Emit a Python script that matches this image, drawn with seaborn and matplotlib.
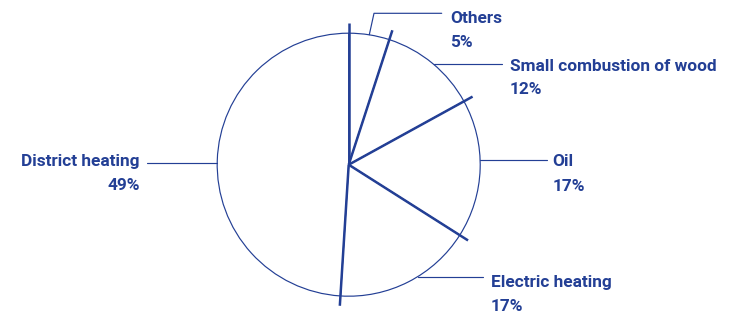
import numpy as np
import matplotlib
matplotlib.use("Agg")
import matplotlib.pyplot as plt
import seaborn as sns

# ---- data ----
categories = ["Others", "Small combustion of wood", "Oil", "Electric heating", "District heating"]
shares = [5, 12, 17, 17, 49]
pct_labels = ["5%", "12%", "17%", "17%", "49%"]

# ---- style ----
sns.set_theme(style="white")
plt.rcParams["font.family"] = ["Roboto", "DejaVu Sans"]
BLUE = "#233F95"
W, H = 732, 320
S = 131.5            # px per data unit (pie radius)
CX, CY = 348.7, 164.7  # pie centre in px
FS = 12.4


def px(x, y):
    return (x - CX) / S, (CY - y) / S


fig = plt.figure(figsize=(W / 100, H / 100), dpi=100)
ax = fig.add_axes([0, 0, 1, 1])
wedges, _ = ax.pie(shares, startangle=90, counterclock=False,
                   colors=["white"] * len(shares), radius=1.0,
                   wedgeprops=dict(edgecolor=BLUE, linewidth=0.85))
ax.set_xlim(-CX / S, (W - CX) / S)
ax.set_ylim(-(H - CY) / S, CY / S)
ax.axis("off")

# thick radial separators, slightly longer than the radius
for w in wedges:
    t = np.deg2rad(w.theta1)
    ax.plot([0, 1.075 * np.cos(t)], [0, 1.075 * np.sin(t)], color=BLUE,
            lw=1.8, solid_capstyle="butt", zorder=5)

# label layout (px): line end x, line y, text x, name baseline, pct baseline, align
layout = [
    dict(elbow=(374, 13.3), end=441.7, tx=450, ny=22.7, py=46.7, ha="left"),
    dict(elbow=None, end=501.7, ly=64.3, tx=510, ny=70.7, py=94.0, ha="left"),
    dict(elbow=None, end=546.7, ly=160.0, tx=552.7, ny=166.0, py=190.7, ha="left"),
    dict(elbow=None, end=482.7, ly=276.7, tx=490.7, ny=286.7, py=310.7, ha="left"),
    dict(elbow=None, end=146.7, ly=163.3, tx=140.0, ny=166.0, py=190.0, ha="right"),
]

for w, name, pct, L in zip(wedges, categories, pct_labels, layout):
    mid = np.deg2rad((w.theta1 + w.theta2) / 2)
    ax0, ay0 = np.cos(mid), np.sin(mid)
    if L["elbow"] is not None:
        ex, ey = px(*L["elbow"])
        endx, _ = px(L["end"], 0)
        ax.plot([ax0, ex, endx], [ay0, ey, ey], color=BLUE, lw=0.85)
    else:
        _, ly = px(0, L["ly"])
        endx, _ = px(L["end"], 0)
        # attach point on the circle at the leader's height
        sx = np.sign(ax0) * np.sqrt(max(1 - ly ** 2, 0))
        ax.plot([sx, endx], [ly, ly], color=BLUE, lw=0.85)
    tx, ny = px(L["tx"], L["ny"])
    _, py = px(0, L["py"])
    ax.text(tx, ny, name, color=BLUE, fontsize=FS, fontweight="bold",
            ha=L["ha"], va="baseline")
    ax.text(tx, py, pct, color=BLUE, fontsize=FS, fontweight="bold",
            ha=L["ha"], va="baseline")

fig.savefig("out.png", dpi=100, facecolor="white")
